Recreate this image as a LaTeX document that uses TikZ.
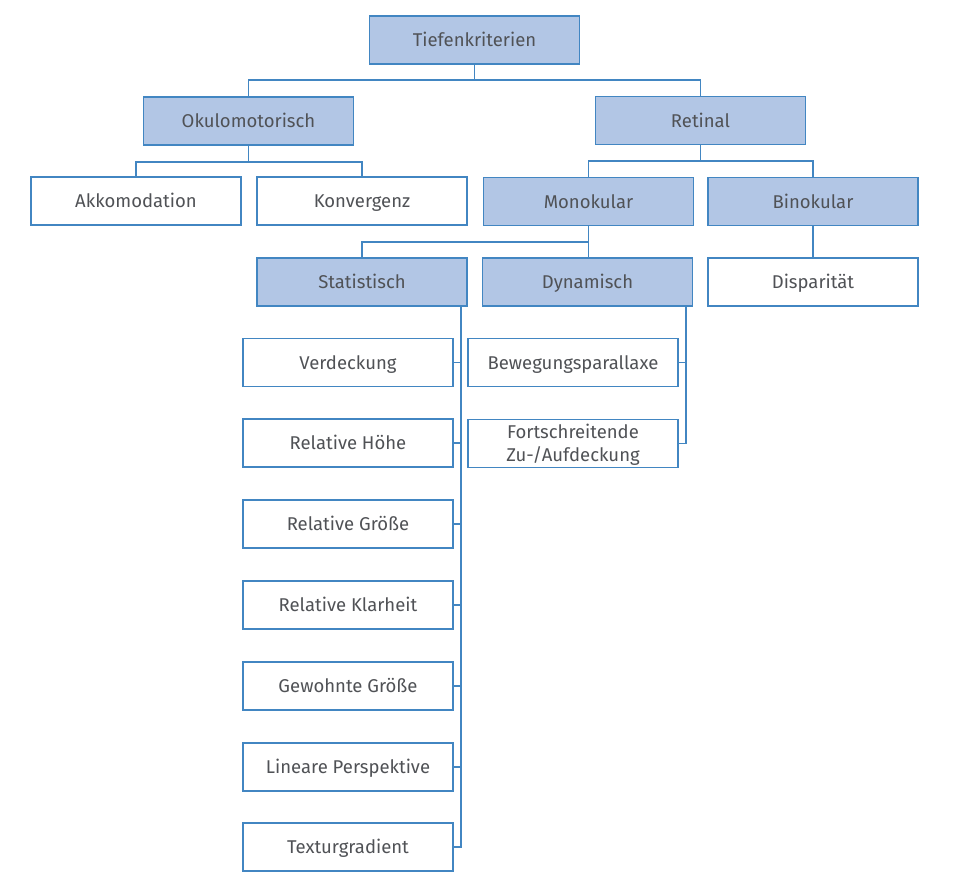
\documentclass[tikz,border=0pt]{standalone}
\usepackage{fontspec}
\setmainfont{Fira Sans}
\definecolor{linecol}{RGB}{66,134,194}
\definecolor{fillcol}{RGB}{178,198,229}
\definecolor{txtcol}{RGB}{80,82,86}
\begin{document}
\begin{tikzpicture}[x=1pt,y=-1pt,
  box/.style={draw=linecol, line width=1.6pt, minimum width=210pt, minimum height=48pt,
    inner sep=0pt, text height=13pt, text depth=0pt, text=txtcol,
    font=\fontsize{18.5}{23}\selectfont, align=center, fill=white},
  hl/.style={box, fill=fillcol},
  conn/.style={draw=linecol, line width=1.8pt}]
\useasboundingbox (0,0) rectangle (967,883);

% nodes
\node[hl]  (tief)    at (474.5,40)   {Tiefenkriterien};
\node[hl]  (okulo)   at (248.5,121)  {Okulomotorisch};
\node[hl]  (retinal) at (700.5,120.5){Retinal};
\node[box] (akk)     at (136,201)    {Akkomodation};
\node[box] (konv)    at (362,201)    {Konvergenz};
\node[hl]  (mono)    at (588.5,201.5){Monokular};
\node[hl]  (bino)    at (813,201.5)  {Binokular};
\node[box] (disp)    at (813,282)    {Disparität};
\node[hl]  (stat)    at (362,282)    {Statistisch};
\node[hl]  (dyn)     at (587.5,282)  {Dynamisch};
\node[box] (verd)    at (348,362.5)  {Verdeckung};
\node[box] (hoehe)   at (348,443)    {Relative Höhe};
\node[box] (groesse) at (348,524)    {Relative Größe};
\node[box] (klar)    at (348,605)    {Relative Klarheit};
\node[box] (gewohnt) at (348,686)    {Gewohnte Größe};
\node[box] (linear)  at (348,767)    {Lineare Perspektive};
\node[box] (textur)  at (348,847)    {Texturgradient};
\node[box] (bew)     at (573,362.5)  {Bewegungsparallaxe};
\node[box, text height=36pt] (fort) at (573,443.5) {Fortschreitende\\Zu-/Aufdeckung};

% junctions
\coordinate (j1) at (tief.south |- 0,80);
\coordinate (j2) at (okulo.south |- 0,162);
\coordinate (j3) at (retinal.south |- 0,161);
\coordinate (j4) at (mono.south |- 0,242);
\coordinate (sb) at ([xshift=-7pt]stat.south east);
\coordinate (db) at ([xshift=-7pt]dyn.south east);

% connectors
\draw[conn] (tief.south) -- (j1);
\draw[conn] (j1) -| (okulo.north);
\draw[conn] (j1) -| (retinal.north);
\draw[conn] (okulo.south) -- (j2);
\draw[conn] (j2) -| (akk.north);
\draw[conn] (j2) -| (konv.north);
\draw[conn] (retinal.south) -- (j3);
\draw[conn] (j3) -| (mono.north);
\draw[conn] (j3) -| (bino.north);
\draw[conn] (bino.south) -- (disp.north);
\draw[conn] (mono.south) -- (mono.south |- dyn.north);
\draw[conn] (j4) -| (stat.north);
\draw[conn] (sb) |- (textur.east);
\foreach \n in {verd,hoehe,groesse,klar,gewohnt,linear}
  \draw[conn] (\n.east) -- (\n.east -| sb);
\draw[conn] (db) |- (fort.east);
\draw[conn] (bew.east) -- (bew.east -| db);
\end{tikzpicture}
\end{document}
